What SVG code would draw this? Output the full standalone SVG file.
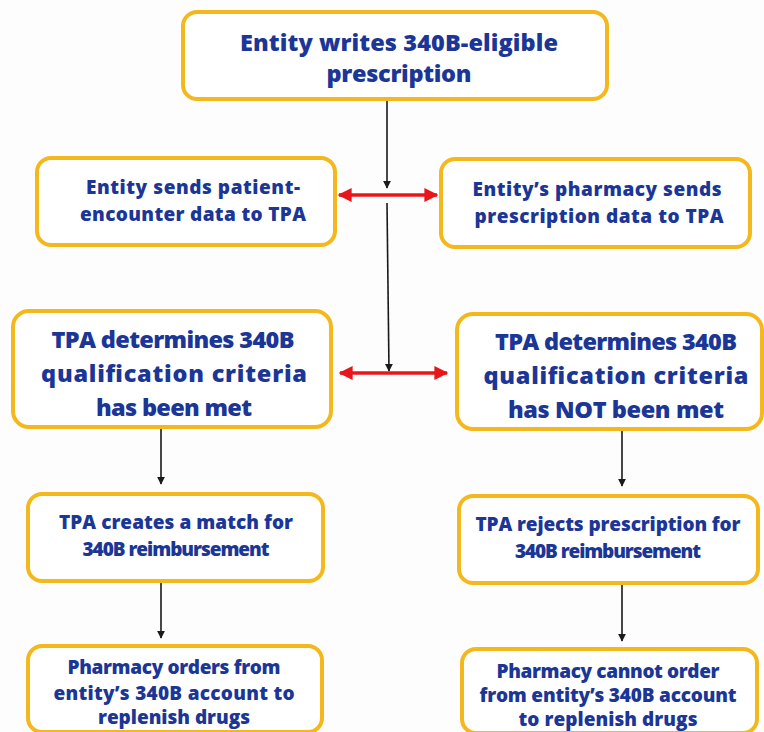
<svg xmlns="http://www.w3.org/2000/svg" width="764" height="732" viewBox="0 0 764 732">
<defs>
<style>
.box{fill:#ffffff;stroke:#f4b81c;stroke-width:4}
.t{font-family:"Open Sans","Liberation Sans",sans-serif;fill:#1b3696;text-anchor:middle}
.big{font-size:23.5px;font-weight:800}
.sm{font-size:19px;font-weight:800}
.blk{stroke:#1a1a1a;stroke-width:1.6;fill:none}
.red{stroke:#e8161b;stroke-width:3.5;fill:none}
</style>
<marker id="ah" viewBox="0 0 10 10" refX="9" refY="5" markerWidth="8" markerHeight="8" markerUnits="userSpaceOnUse" orient="auto">
<path d="M0,0 L10,5 L0,10 z" fill="#1a1a1a"/>
</marker>
<marker id="rh" viewBox="0 0 10 10" refX="9" refY="5" markerWidth="4" markerHeight="4" orient="auto-start-reverse">
<path d="M0,0 L10,5 L0,10 z" fill="#e8161b"/>
</marker>
</defs>
<rect width="764" height="732" fill="#fdfdfd"/>
<g id="connectors">
<line class="blk" x1="387" y1="100" x2="387" y2="188" marker-end="url(#ah)"/>
<line class="blk" x1="387" y1="203" x2="389" y2="371" marker-end="url(#ah)"/>
<line class="blk" x1="161" y1="429" x2="161" y2="484" marker-end="url(#ah)"/>
<line class="blk" x1="622" y1="431" x2="622" y2="486" marker-end="url(#ah)"/>
<line class="blk" x1="161" y1="583" x2="161" y2="638" marker-end="url(#ah)"/>
<line class="blk" x1="622" y1="585" x2="622" y2="641" marker-end="url(#ah)"/>
<line class="red" x1="339" y1="195" x2="437" y2="195" marker-start="url(#rh)" marker-end="url(#rh)"/>
<line class="red" x1="340" y1="373" x2="447" y2="373" marker-start="url(#rh)" marker-end="url(#rh)"/>
</g>
<g id="n1">
<rect class="box" x="183" y="12" width="424" height="87" rx="14"/>
<text class="t big" x="399" y="51" textLength="318" lengthAdjust="spacing">Entity writes 340B-eligible</text>
<text class="t big" x="399" y="82" textLength="145" lengthAdjust="spacing">prescription</text>
</g>
<g id="n2">
<rect class="box" x="37" y="158" width="298" height="87" rx="14"/>
<text class="t sm" x="193" y="194" textLength="214" lengthAdjust="spacing">Entity sends patient-</text>
<text class="t sm" x="193" y="221" textLength="226" lengthAdjust="spacing">encounter data to TPA</text>
</g>
<g id="n3">
<rect class="box" x="441" y="159" width="309" height="88" rx="14"/>
<text class="t sm" x="597" y="196" textLength="249" lengthAdjust="spacing">Entity’s pharmacy sends</text>
<text class="t sm" x="599" y="223" textLength="249" lengthAdjust="spacing">prescription data to TPA</text>
</g>
<g id="n4">
<rect class="box" x="13" y="311" width="318" height="116" rx="16"/>
<text class="t big" x="173" y="348" textLength="243" lengthAdjust="spacing">TPA determines 340B</text>
<text class="t big" x="174" y="382" textLength="266" lengthAdjust="spacing">qualification criteria</text>
<text class="t big" x="174" y="416" textLength="156" lengthAdjust="spacing">has been met</text>
</g>
<g id="n5">
<rect class="box" x="457" y="314" width="305" height="115" rx="16"/>
<text class="t big" x="616" y="350" textLength="242" lengthAdjust="spacing">TPA determines 340B</text>
<text class="t big" x="616" y="384" textLength="265" lengthAdjust="spacing">qualification criteria</text>
<text class="t big" x="616" y="418" textLength="216" lengthAdjust="spacing">has NOT been met</text>
</g>
<g id="n6">
<rect class="box" x="28" y="494" width="295" height="87" rx="14"/>
<text class="t sm" x="176" y="529" textLength="234" lengthAdjust="spacing">TPA creates a match for</text>
<text class="t sm" x="176" y="556" textLength="187" lengthAdjust="spacing">340B reimbursement</text>
</g>
<g id="n7">
<rect class="box" x="459" y="496" width="299" height="87" rx="14"/>
<text class="t sm" x="608" y="531" textLength="265" lengthAdjust="spacing">TPA rejects prescription for</text>
<text class="t sm" x="608" y="558" textLength="186" lengthAdjust="spacing">340B reimbursement</text>
</g>
<g id="n8">
<rect class="box" x="28" y="646" width="294" height="86" rx="14"/>
<text class="t sm" x="174" y="674" textLength="213" lengthAdjust="spacing">Pharmacy orders from</text>
<text class="t sm" x="174" y="700" textLength="241" lengthAdjust="spacing">entity’s 340B account to</text>
<text class="t sm" x="174" y="724" textLength="152" lengthAdjust="spacing">replenish drugs</text>
</g>
<g id="n9">
<rect class="box" x="462" y="649" width="295" height="84" rx="14"/>
<text class="t sm" x="608" y="678" textLength="223" lengthAdjust="spacing">Pharmacy cannot order</text>
<text class="t sm" x="608" y="702" textLength="257" lengthAdjust="spacing">from entity’s 340B account</text>
<text class="t sm" x="608" y="726" textLength="179" lengthAdjust="spacing">to replenish drugs</text>
</g>
</svg>
